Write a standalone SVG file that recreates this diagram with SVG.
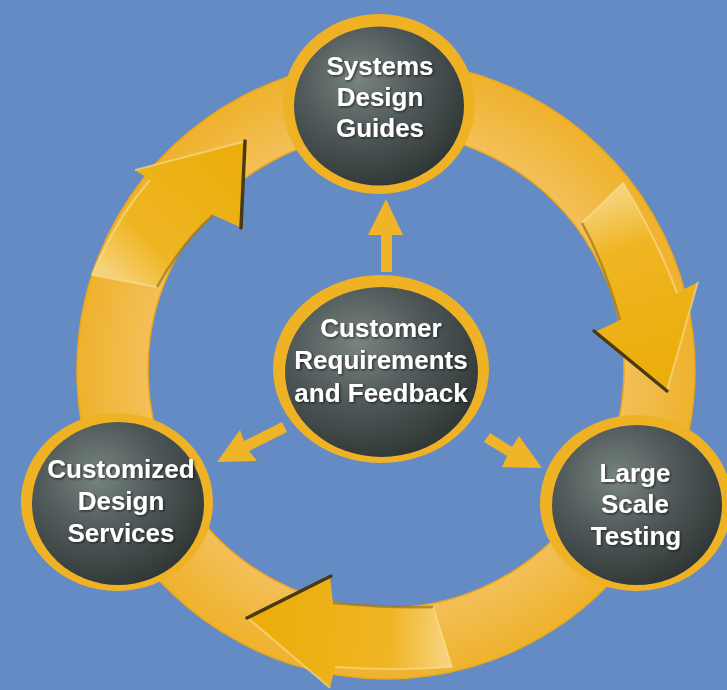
<svg xmlns="http://www.w3.org/2000/svg" width="727" height="690" viewBox="0 0 727 690">
<defs>
<style>
.lbl{font-family:"Liberation Sans",Arial,sans-serif;font-weight:bold;font-size:26px;fill:#ffffff;text-anchor:middle;filter:url(#ts)}
.rim{fill:#EFB225}
.ball{fill:url(#sphere)}
.carrow{fill:#F0B429}
.big{stroke:none}
.dark{stroke:#4a3a12;stroke-width:3.5;stroke-linecap:round;fill:none}
.shade{stroke:#9a7620;stroke-width:2.5;fill:none;opacity:0.7}
.hl{stroke:#FBE3A0;stroke-width:2;fill:none;opacity:0.55}
</style>
<radialGradient id="sphere" cx="0.38" cy="0.33" r="0.72">
<stop offset="0" stop-color="#778481"/>
<stop offset="0.45" stop-color="#525c5c"/>
<stop offset="1" stop-color="#2f3535"/>
</radialGradient>
<radialGradient id="ringg" gradientUnits="userSpaceOnUse" cx="386" cy="370" r="309">
<stop offset="0.76" stop-color="#F3C05A"/>
<stop offset="0.9" stop-color="#F1B840"/>
<stop offset="1" stop-color="#EFB22C"/>
</radialGradient>
<linearGradient id="gUL" gradientUnits="userSpaceOnUse" x1="120" y1="285" x2="240" y2="160">
<stop offset="0" stop-color="#F5D27A"/>
<stop offset="0.3" stop-color="#EFB523"/>
<stop offset="1" stop-color="#ECAE0C"/>
</linearGradient>
<linearGradient id="gR" gradientUnits="userSpaceOnUse" x1="600" y1="200" x2="660" y2="370">
<stop offset="0" stop-color="#F5D27A"/>
<stop offset="0.3" stop-color="#EFB523"/>
<stop offset="1" stop-color="#ECAE0C"/>
</linearGradient>
<linearGradient id="gB" gradientUnits="userSpaceOnUse" x1="445" y1="640" x2="260" y2="630">
<stop offset="0" stop-color="#F5D27A"/>
<stop offset="0.3" stop-color="#EFB523"/>
<stop offset="1" stop-color="#ECAE0C"/>
</linearGradient>
<filter id="ts" x="-10%" y="-20%" width="120%" height="150%">
<feDropShadow dx="1.2" dy="1.2" stdDeviation="0.8" flood-color="#111" flood-opacity="0.7"/>
</filter>
</defs>
<rect width="727" height="690" fill="#658BC5"/>
<g id="ring">
<path d="M386,61 A309,309 0 1 1 385.9,61 Z M386,132 A238,238 0 1 0 386.1,132 Z" fill="url(#ringg)" fill-rule="evenodd" stroke="#EAA71E" stroke-width="1.5"/>
</g>
<g id="connectors">
<g id="arrow-ul">
<path class="big" fill="url(#gUL)" d="M92,275 Q115,220 150,180 L135,170 L243,142 L240,227 L213,215 Q180,245 157,287 Z"/>
<path class="hl" d="M92,275 Q115,220 150,180 M135,170 L243,142 M92,275 L157,287"/>
<path class="shade" d="M213,215 Q180,245 157,287"/>
<path class="dark" d="M245,141 L241,228"/>
</g>
<g id="arrow-r">
<path class="big" fill="url(#gR)" d="M582,223 L623,183 Q655,235 677,293 L698,282 L667,390 L595,332 L620,320 Q605,265 582,223 Z"/>
<path class="hl" d="M582,223 L623,183 Q655,235 677,293 M698,282 L667,390"/>
<path class="shade" d="M620,320 Q605,265 582,223"/>
<path class="dark" d="M667,391 L594,331"/>
</g>
<g id="arrow-b">
<path class="big" fill="url(#gB)" d="M330,577 L333,603 Q385,608 433,607 L452,667 Q395,671 335,667 L330,688 L248,618 Z"/>
<path class="hl" d="M433,607 L452,667 Q395,671 335,667 M330,688 L248,618"/>
<path class="shade" d="M333,603 Q385,608 433,607"/>
<path class="dark" d="M247,618 L331,576"/>
</g>
<polygon class="carrow" points="386,199 403,235 392,235 392,272 381,272 381,235 368,235"/>
<polygon class="carrow" points="217,462 240,430 244,441 282,422 287,432 249,451 257,461"/>
<polygon class="carrow" points="542,468 519,436 512,447 490,433 484,442 507,456 502,467"/>
</g>
<g id="node-top">
<ellipse class="rim" cx="379" cy="104" rx="96" ry="90"/>
<ellipse class="ball" cx="379" cy="106" rx="85" ry="79.5"/>
<text class="lbl" x="380" y="75">Systems</text>
<text class="lbl" x="380" y="106">Design</text>
<text class="lbl" x="380" y="137">Guides</text>
</g>
<g id="node-center">
<ellipse class="rim" cx="381" cy="369" rx="108" ry="94"/>
<ellipse class="ball" cx="381.5" cy="372" rx="96.5" ry="85"/>
<text class="lbl" x="381" y="337">Customer</text>
<text class="lbl" x="381" y="369">Requirements</text>
<text class="lbl" x="381" y="402">and Feedback</text>
</g>
<g id="node-left">
<ellipse class="rim" cx="117" cy="502" rx="96" ry="89"/>
<ellipse class="ball" cx="118" cy="503.5" rx="86" ry="81.5"/>
<text class="lbl" x="121" y="478">Customized</text>
<text class="lbl" x="121" y="510">Design</text>
<text class="lbl" x="121" y="542">Services</text>
</g>
<g id="node-right">
<ellipse class="rim" cx="636" cy="503" rx="96" ry="88"/>
<ellipse class="ball" cx="637" cy="505" rx="85" ry="80"/>
<text class="lbl" x="635" y="482">Large</text>
<text class="lbl" x="635" y="513">Scale</text>
<text class="lbl" x="636" y="545">Testing</text>
</g>
</svg>
